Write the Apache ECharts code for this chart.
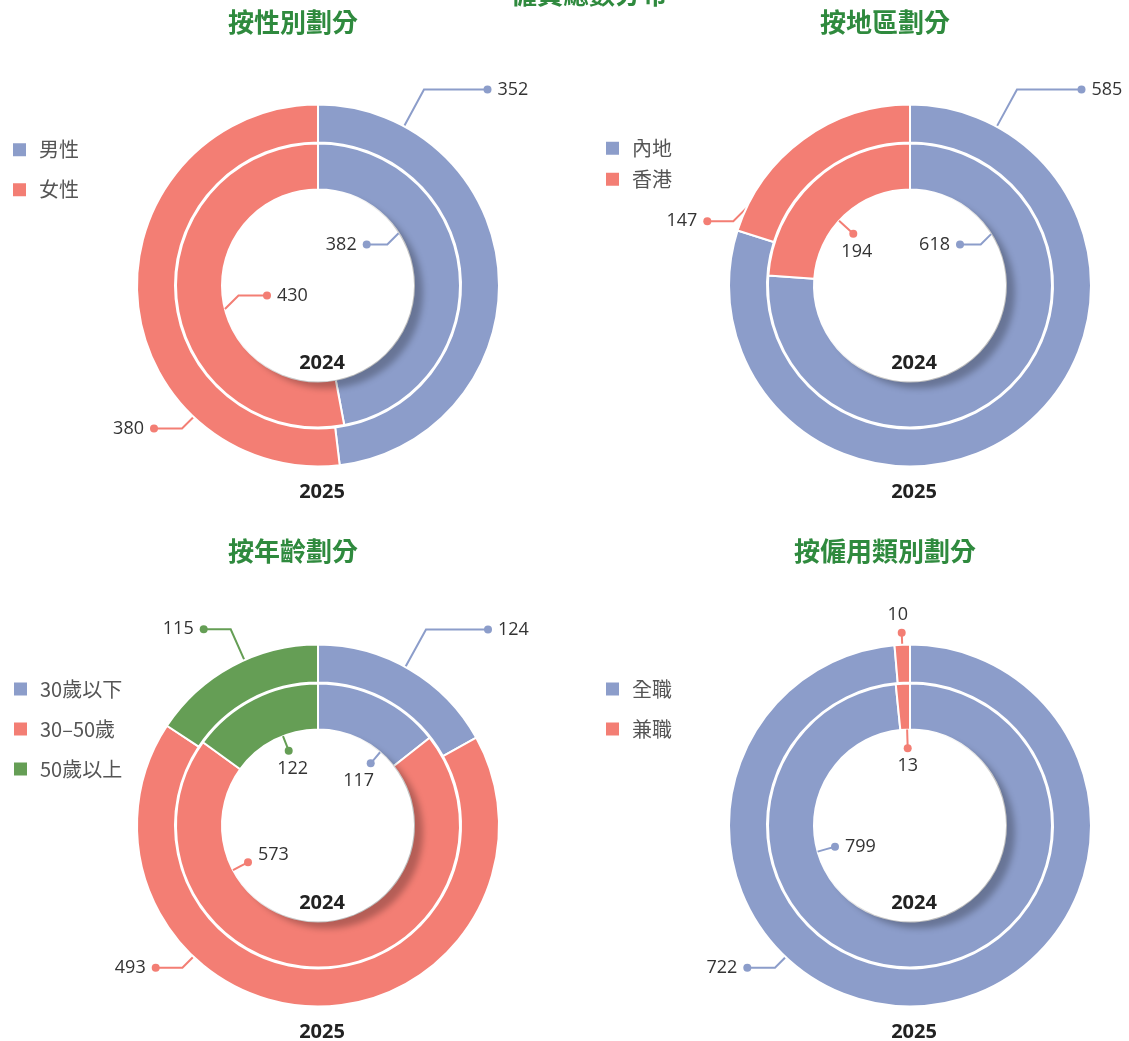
<!DOCTYPE html>
<html>
<head>
<meta charset="utf-8">
<script src="https://cdn.jsdelivr.net/npm/echarts@6/dist/echarts.min.js"></script>
<style>html,body{margin:0;padding:0;background:#fff}#c{width:1129px;height:1041px}</style>
</head>
<body>
<div id="c"></div>
<script>
// ---------------- data ----------------
const mainTitle = '僱員總數分布';
const yearOuter = '2025';
const yearInner = '2024';

const genderTitle = '按性別劃分';
const genderCats = ['男性', '女性'];
const gender2025 = [352, 380];
const gender2024 = [382, 430];

const regionTitle = '按地區劃分';
const regionCats = ['內地', '香港'];
const region2025 = [585, 147];
const region2024 = [618, 194];

const ageTitle = '按年齡劃分';
const ageCats = ['30歲以下', '30–50歲', '50歲以上'];
const age2025 = [124, 493, 115];
const age2024 = [117, 573, 122];

const empTitle = '按僱用類別劃分';
const empCats = ['全職', '兼職'];
const emp2025 = [722, 10];
const emp2024 = [799, 13];

// ---------------- styles / layout ----------------
const COLORS = ['#8C9DCA', '#F37E74', '#659E55'];
const FONT = "'Open Sans', 'Noto Sans CJK TC', sans-serif";
const CJK = "'Noto Sans CJK TC', 'Open Sans', sans-serif";
const TITLE_GREEN = '#2F8A3E';
const R_OUT = [143, 181];
const R_IN = [96, 142];
const R_HOLE = 96;

// label placement relative to each chart centre (dot = end of guide line)
const genderOuterLbl = [
  {mode: 'R', knee: [106, -196], dot: [169.5, -196], dir: 'radial'},
  {mode: 'L', knee: [-136, 143], dot: [-164, 143], dir: 'ne'}
];
const genderInnerLbl = [
  {mode: 'L', knee: [69.3, -41], dot: [48.7, -41], dir: 'ne'},
  {mode: 'R', knee: [-79.5, 10], dot: [-51, 10], dir: 'sw'}
];
const regionOuterLbl = [
  {mode: 'R', knee: [107, -196], dot: [171.5, -196], dir: 'radial'},
  {mode: 'L', knee: [-176.7, -64.3], dot: [-202.7, -64.3], dir: 'ne'}
];
const regionInnerLbl = [
  {mode: 'L', knee: [70.7, -41], dot: [50, -41], dir: 'ne'},
  {mode: 'B', dot: [-56.7, -51.7], ox: 3.5}
];
const ageOuterLbl = [
  {mode: 'R', knee: [108, -196], dot: [170, -196], dir: 'radial'},
  {mode: 'L', knee: [-135.6, 142.2], dot: [-162.3, 142.2], dir: 'ne'},
  {mode: 'L', knee: [-87.3, -196.2], dot: [-114.3, -196.2], dir: 'radial'}
];
const ageInnerLbl = [
  {mode: 'B', dot: [52.7, -62.2], ox: -12},
  {mode: 'RL', dot: [-70, 36.8]},
  {mode: 'B', dot: [-29.3, -74.8], ox: 4}
];
const empOuterLbl = [
  {mode: 'L', knee: [-135, 142.2], dot: [-162.7, 142.2], dir: 'ne'},
  {mode: 'A', dot: [-8.3, -192.8], ox: -4}
];
const empInnerLbl = [
  {mode: 'R', dot: [-75, 21.2]},
  {mode: 'B', dot: [-2.3, -77.2], ox: 0}
];

const panels = [
  {title: genderTitle, cats: genderCats, outer: gender2025, inner: gender2024,
   center: [318, 285.5], titleX: 293, titleY: 22, legend: {left: 6, top: 134.7, gap: 20},
   outerLbl: genderOuterLbl, innerLbl: genderInnerLbl},
  {title: regionTitle, cats: regionCats, outer: region2025, inner: region2024,
   center: [910, 285.5], titleX: 885, titleY: 22, legend: {left: 599, top: 133.3, gap: 11},
   outerLbl: regionOuterLbl, innerLbl: regionInnerLbl},
  {title: ageTitle, cats: ageCats, outer: age2025, inner: age2024,
   center: [318, 825.5], titleX: 293, titleY: 551, legend: {left: 7, top: 674, gap: 20},
   outerLbl: ageOuterLbl, innerLbl: ageInnerLbl},
  {title: empTitle, cats: empCats, outer: emp2025, inner: emp2024,
   center: [910, 825.5], titleX: 885, titleY: 551, legend: {left: 599, top: 674, gap: 20},
   outerLbl: empOuterLbl, innerLbl: empInnerLbl}
];

// ---------------- helpers ----------------
const DIRS = {ne: [1, -1], nw: [-1, -1], se: [1, 1], sw: [-1, 1]};
function arcPoint(from, dirName, rad) {
  if (!dirName || dirName === 'radial') {
    const l = Math.hypot(from[0], from[1]);
    return [from[0] * rad / l, from[1] * rad / l];
  }
  const n = Math.SQRT1_2, dx = DIRS[dirName][0] * n, dy = DIRS[dirName][1] * n;
  const b = from[0] * dx + from[1] * dy;
  const c = from[0] * from[0] + from[1] * from[1] - rad * rad;
  const s = Math.sqrt(Math.max(b * b - c, 0));
  const t1 = -b - s, t2 = -b + s;
  const t = t1 > 0 ? t1 : t2;
  return [from[0] + t * dx, from[1] + t * dy];
}
function labelAnchor(cfg, c) {
  const x = c[0] + cfg.dot[0], y = c[1] + cfg.dot[1];
  const ox = cfg.ox || 0;
  switch (cfg.mode) {
    case 'R': return {x: x - 4, y: y, align: 'left', verticalAlign: 'middle'};
    case 'RL': return {x: x - 4, y: y - 7, align: 'left', verticalAlign: 'middle'};
    case 'L': return {x: x + 4, y: y, align: 'right', verticalAlign: 'middle'};
    case 'B': return {x: x + ox, y: y - 7, align: 'center', verticalAlign: 'top'};
    case 'A': return {x: x + ox, y: y + 7, align: 'center', verticalAlign: 'bottom'};
  }
}
function spName(ox) { return 'sp' + Math.round(Math.abs(ox) * 2); }
function labelText(cfg, ci, value) {
  const d = '{d' + ci + '|}', db = '{d' + ci + 'b|}';
  const ox = cfg.ox || 0;
  const dotLine = ox ? (ox > 0 ? d + '{' + spName(ox) + '|}' : '{' + spName(ox) + '|}' + d) : d;
  switch (cfg.mode) {
    case 'R': return d + '{tr|' + value + '}';
    case 'RL': return db + '{tr|' + value + '}';
    case 'L': return '{tl|' + value + '}' + d;
    case 'B': return dotLine + '\n{t|' + value + '}';
    case 'A': return '{t|' + value + '}\n' + dotLine;
  }
}
function guidePoints(cfg, c, rad) {
  let pts;
  if (cfg.knee) {
    const s = arcPoint(cfg.knee, cfg.dir, rad);
    pts = [s, cfg.knee, cfg.dot];
  } else {
    const s = arcPoint(cfg.dot, 'radial', rad);
    pts = [s, [(s[0] + cfg.dot[0]) / 2, (s[1] + cfg.dot[1]) / 2], cfg.dot];
  }
  return pts.map(p => [c[0] + p[0], c[1] + p[1]]);
}

const rich = {
  tr: {fontSize: 18, color: '#333', lineHeight: 22, fontFamily: FONT, padding: [0, 0, 0, 6]},
  tl: {fontSize: 18, color: '#333', lineHeight: 22, fontFamily: FONT, padding: [0, 6, 0, 0]},
  t: {fontSize: 18, color: '#333', lineHeight: 22, fontFamily: FONT}
};
COLORS.forEach((col, i) => {
  rich['d' + i] = {width: 8, height: 8, borderRadius: 4, backgroundColor: col, lineHeight: 14};
  rich['d' + i + 'b'] = {width: 8, height: 8, borderRadius: 4, backgroundColor: col, lineHeight: 14, verticalAlign: 'bottom'};
});
panels.forEach(p => p.outerLbl.concat(p.innerLbl).forEach(l => {
  if (l.ox) rich[spName(l.ox)] = {width: Math.round(Math.abs(l.ox) * 2), height: 2, lineHeight: 14};
}));

// ---------------- build options ----------------
const series = [];
const titles = [];
const legends = [];
const TPAD = 5; // default title padding

titles.push({text: mainTitle, left: 589 - TPAD, top: -24, textAlign: 'center',
  textStyle: {fontSize: 26, fontWeight: 'bold', color: TITLE_GREEN, fontFamily: CJK}});

panels.forEach((p, pi) => {
  const c = p.center;
  titles.push({text: p.title, left: p.titleX - TPAD, top: p.titleY - 18, textAlign: 'center',
    textStyle: {fontSize: 26, fontWeight: 'bold', color: TITLE_GREEN, fontFamily: CJK}});
  titles.push({text: yearInner, left: c[0] + 4 - TPAD, top: c[1] + 78 - 15, textAlign: 'center',
    textStyle: {fontSize: 20, fontWeight: 'bold', color: '#222', fontFamily: FONT}});
  titles.push({text: yearOuter, left: c[0] + 4 - TPAD, top: c[1] + 207 - 15, textAlign: 'center',
    textStyle: {fontSize: 20, fontWeight: 'bold', color: '#222', fontFamily: FONT}});

  legends.push({orient: 'vertical', left: p.legend.left, top: p.legend.top, itemGap: p.legend.gap,
    itemWidth: 15, itemHeight: 15, icon: 'rect', selectedMode: false, data: p.cats,
    textStyle: {fontSize: 20, color: '#555', fontFamily: CJK, padding: [0, 0, 0, 7]}});

  const mkData = (vals, transparent) => vals.map((v, i) => ({
    name: p.cats[i], value: v,
    itemStyle: transparent ? {color: 'rgba(0,0,0,0)', borderWidth: 0} : {color: COLORS[i]},
    labelLine: {lineStyle: {color: COLORS[i]}}
  }));

  const mkLabelLayout = (cfgs, rad) => function (params) {
    const cfg = cfgs[params.dataIndex];
    const a = labelAnchor(cfg, c);
    a.labelLinePoints = guidePoints(cfg, c, rad);
    return a;
  };
  const mkFormatter = (cfgs) => function (params) {
    return labelText(cfgs[params.dataIndex], params.dataIndex, params.value);
  };

  // outer ring 2025 (with labels)
  series.push({
    type: 'pie', name: p.title + yearOuter, center: c, radius: R_OUT, z: 2,
    startAngle: 90, clockwise: true, avoidLabelOverlap: false, silent: true,
    itemStyle: {borderColor: '#fff', borderWidth: 2},
    label: {show: true, position: 'outside', formatter: mkFormatter(p.outerLbl), rich: rich},
    labelLine: {show: true, length: 10, length2: 10, lineStyle: {width: 2}},
    labelLayout: mkLabelLayout(p.outerLbl, R_OUT[1]),
    emphasis: {disabled: true},
    data: mkData(p.outer, false)
  });
  // inner ring 2024 (sectors only)
  series.push({
    type: 'pie', name: p.title + yearInner, center: c, radius: R_IN, z: 2,
    startAngle: 90, clockwise: true, silent: true,
    itemStyle: {borderColor: '#fff', borderWidth: 2},
    label: {show: false}, labelLine: {show: false},
    emphasis: {disabled: true},
    data: mkData(p.inner, false)
  });
  // hole disk with shadow
  series.push({
    type: 'pie', name: 'hole' + pi, center: c, radius: [0, R_HOLE], z: 3, silent: true,
    label: {show: false}, labelLine: {show: false}, emphasis: {disabled: true},
    itemStyle: {color: '#fff', shadowBlur: 6, shadowColor: 'rgba(0,0,0,0.26)', shadowOffsetX: 9, shadowOffsetY: 7},
    data: [{name: 'hole' + pi, value: 1}]
  });
  // inner ring labels (drawn above the disk)
  series.push({
    type: 'pie', name: p.title + yearInner + 'L', center: c, radius: R_IN, z: 4,
    startAngle: 90, clockwise: true, avoidLabelOverlap: false, silent: true,
    label: {show: true, position: 'outside', formatter: mkFormatter(p.innerLbl), rich: rich},
    labelLine: {show: true, length: 10, length2: 10, lineStyle: {width: 2}},
    labelLayout: mkLabelLayout(p.innerLbl, R_IN[0]),
    emphasis: {disabled: true},
    data: mkData(p.inner, true)
  });
});

const chart = echarts.init(document.getElementById('c'), null, {renderer: 'canvas'});
chart.setOption({
  animation: false,
  backgroundColor: '#fff',
  title: titles,
  legend: legends,
  series: series
});
</script>
</body>
</html>
